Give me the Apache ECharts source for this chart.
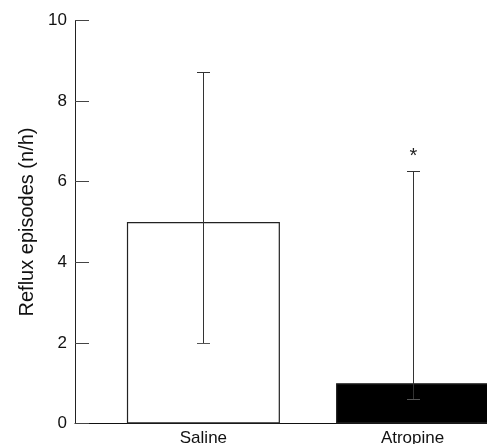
<!DOCTYPE html>
<html>
<head>
<meta charset="utf-8">
<script src="https://cdn.jsdelivr.net/npm/echarts@6/dist/echarts.min.js"></script>
<style>
html,body{margin:0;padding:0;background:#fff;}
#chart{width:487px;height:444px;}
</style>
</head>
<body>
<div id="chart"></div>
<script>
const categories = ['Saline', 'Atropine'];
const means = [5.0, 1.0];
const errLow = [1.99, 0.6];
const errHigh = [8.72, 6.26];
const marks = ['', '*'];
const yMin = 0, yMax = 10, yStep = 2;

const chart = echarts.init(document.getElementById('chart'), null, {renderer: 'canvas'});

const barData = categories.map((c, i) => [i + 1, means[i]]);
const errData = categories.map((c, i) => [i + 1, errLow[i], errHigh[i], i]);

const font = 'Liberation Sans, Arial, Helvetica, sans-serif';

chart.setOption({
  animation: false,
  backgroundColor: '#fff',
  grid: {left: 75, top: 20.5, bottom: 20.5, right: 0, containLabel: false, outerBoundsMode: 'none'},
  xAxis: {
    type: 'value',
    min: 0.386,
    max: 2.356,
    axisLine: {show: true, lineStyle: {color: '#111', width: 1}},
    axisTick: {show: false},
    splitLine: {show: false},
    axisLabel: {
      customValues: [1, 2],
      formatter: v => categories[Math.round(v) - 1] || '',
      fontSize: 17,
      color: '#111',
      fontFamily: font,
      margin: 6
    }
  },
  yAxis: {
    type: 'value',
    min: yMin,
    max: yMax,
    interval: yStep,
    name: 'Reflux episodes (n/h)',
    nameLocation: 'middle',
    nameGap: 37,
    nameRotate: 90,
    nameTextStyle: {fontSize: 20, color: '#111', fontFamily: font},
    axisLine: {show: true, lineStyle: {color: '#222', width: 1}},
    axisTick: {show: true, inside: true, length: 14, lineStyle: {color: '#444'}},
    splitLine: {show: false},
    axisLabel: {fontSize: 17, color: '#111', fontFamily: font, margin: 8}
  },
  series: [
    {
      type: 'bar',
      data: barData,
      barWidth: 153,
      itemStyle: {
        color: p => p.dataIndex === 0 ? '#fff' : '#000',
        borderColor: '#222',
        borderWidth: 1.2
      },
      z: 2
    },
    {
      type: 'custom',
      data: errData,
      z: 5,
      clip: false,
      renderItem: (params, api) => {
        const x = api.value(0);
        const lo = api.coord([x, api.value(1)]);
        const hi = api.coord([x, api.value(2)]);
        const cx = Math.round(lo[0]) + 0.5;
        const ly = Math.round(lo[1]) + 0.5;
        const hy = Math.round(hi[1]) + 0.5;
        const cap = 6.5;
        const st = {stroke: '#333', lineWidth: 1};
        const children = [
          {type: 'line', shape: {x1: cx, y1: ly, x2: cx, y2: hy}, style: st},
          {type: 'line', shape: {x1: cx - cap, y1: ly, x2: cx + cap, y2: ly}, style: {stroke: '#555', lineWidth: 1}},
          {type: 'line', shape: {x1: cx - cap, y1: hy, x2: cx + cap, y2: hy}, style: st}
        ];
        const m = marks[api.value(3)];
        if (m) {
          children.push({
            type: 'text',
            style: {text: m, x: cx, y: hy - 15, align: 'center', verticalAlign: 'middle',
              fontSize: 20, fill: '#222', fontFamily: font}
          });
        }
        return {type: 'group', children};
      }
    }
  ]
});
</script>
</body>
</html>
